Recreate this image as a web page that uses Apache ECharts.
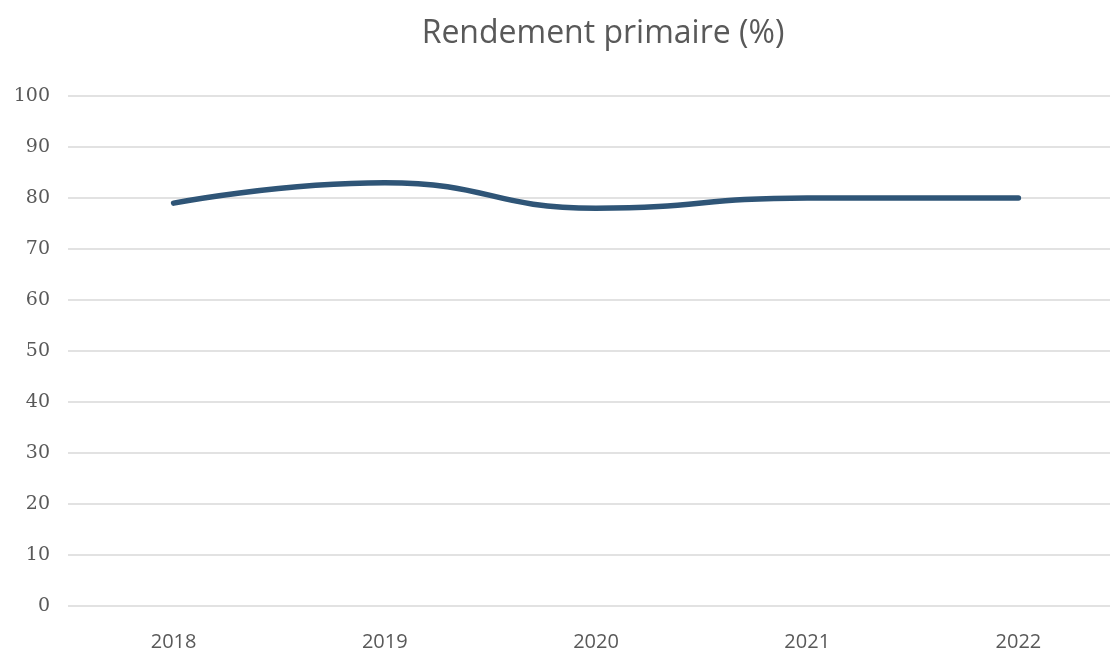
<!DOCTYPE html>
<html>
<head>
<meta charset="utf-8">
<script src="https://cdn.jsdelivr.net/npm/echarts@6/dist/echarts.min.js"></script>
<style>
  html, body { margin: 0; padding: 0; background: #fff; overflow: hidden; }
  #main { width: 1110px; height: 654px; }
</style>
</head>
<body>
<div id="main"></div>
<script>
var years = ['2018', '2019', '2020', '2021', '2022'];
var rendement = [79, 83, 78, 80, 80];

var chart = echarts.init(document.getElementById('main'));

chart.setOption({
  backgroundColor: '#fff',
  animation: false,
  title: {
    text: 'Rendement primaire (%)',
    left: 598,
    textAlign: 'center',
    top: 13,
    textStyle: {
      fontFamily: 'Open Sans',
      fontWeight: 'normal',
      fontSize: 32,
      color: '#595959'
    }
  },
  // grid runs past the right edge, like the original
  grid: { left: 68, right: -14, top: 96, bottom: 48, outerBoundsMode: 'none' },
  xAxis: {
    type: 'category',
    data: years,
    boundaryGap: true,
    axisLine: { show: false },
    axisTick: { show: false },
    axisLabel: {
      fontFamily: 'Open Sans',
      fontSize: 20,
      color: '#595959',
      margin: 26
    }
  },
  yAxis: {
    type: 'value',
    min: 0,
    max: 100,
    interval: 10,
    axisLine: { show: false },
    axisTick: { show: false },
    axisLabel: {
      fontFamily: 'DejaVu Serif',
      fontSize: 19,
      color: '#595959',
      margin: 18
    },
    splitLine: { lineStyle: { color: '#d9d9d9', width: 1.5 } }
  },
  series: [{
    type: 'line',
    data: rendement,
    smooth: 0.5,
    symbol: 'none',
    lineStyle: { color: '#2f5577', width: 5.5, cap: 'round' }
  }]
});
</script>
</body>
</html>
